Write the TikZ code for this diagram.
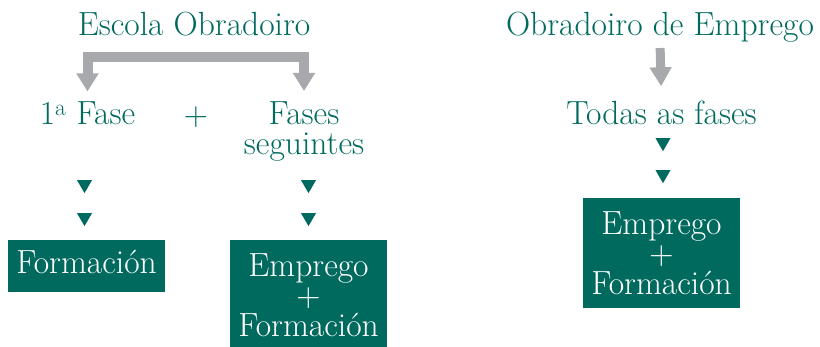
\documentclass[tikz,border=0pt]{standalone}
\usetikzlibrary{arrows.meta,shapes.geometric,calc}
\definecolor{tealc}{HTML}{006A5E}
\definecolor{arrgray}{HTML}{A7A9AC}
\begin{document}
\begin{tikzpicture}[x=1pt,y=-1pt,
  lbl/.style={text=tealc, font=\fontsize{33.5}{30}\selectfont, inner sep=0pt, align=center},
  box/.style={fill=tealc, text=white, font=\fontsize{33.5}{30}\selectfont, inner sep=0pt, minimum width=157pt, align=center},
  tri/.style={regular polygon, regular polygon sides=3, shape border rotate=180, fill=tealc, inner sep=0pt, minimum size=17.3pt},
  garrow/.style={draw=arrgray, line width=10pt, line join=miter, -{Triangle[width=21pt,length=18pt]}}
]
\useasboundingbox (0,0) rectangle (820,347);
% left part
\node[lbl, anchor=base] (esc) at (194,36) {Escola Obradoiro};
\node[lbl, anchor=base] (f1) at (87.5,125) {1\textsuperscript{a} Fase};
\node[lbl] (plus) at (196,117) {+};
\node[lbl] (fs) at (304,132) {Fases\\seguintes};
\draw[garrow, shorten >=10.5pt] ([yshift=-20pt]esc.south) -| (f1.north);
\draw[garrow, shorten >=11pt] ([yshift=-20pt]esc.south) -| (fs.north);
\node[tri] (t1) at (84.5,184.5) {};
\node[tri] (t2) at (84.5,217.5) {};
\node[tri] (t3) at (308.5,184.5) {};
\node[tri] (t4) at (308.5,217.5) {};
\node[box, minimum height=52pt, text height=23pt, text depth=7pt] (b1) at (86.5,266) {Formación};
\node[box, minimum height=110pt] (b2) at (308.5,295) {Emprego\\+\\Formación};
% right part
\node[lbl, anchor=base] (oe) at (660,36) {Obradoiro de Emprego};
\node[lbl, anchor=base] (todas) at (661.5,125) {Todas as fases};
\draw[draw=arrgray, line width=9pt, -{Triangle[width=21pt,length=19pt]}, shorten <=5pt, shorten >=15pt] (oe.south) -- (todas.north);
\node[tri] (t5) at (663,142.5) {};
\node[tri] (t6) at (663,174.5) {};
\node[box, minimum height=110pt] (b3) at (661.5,253) {Emprego\\+\\Formación};
\end{tikzpicture}
\end{document}
